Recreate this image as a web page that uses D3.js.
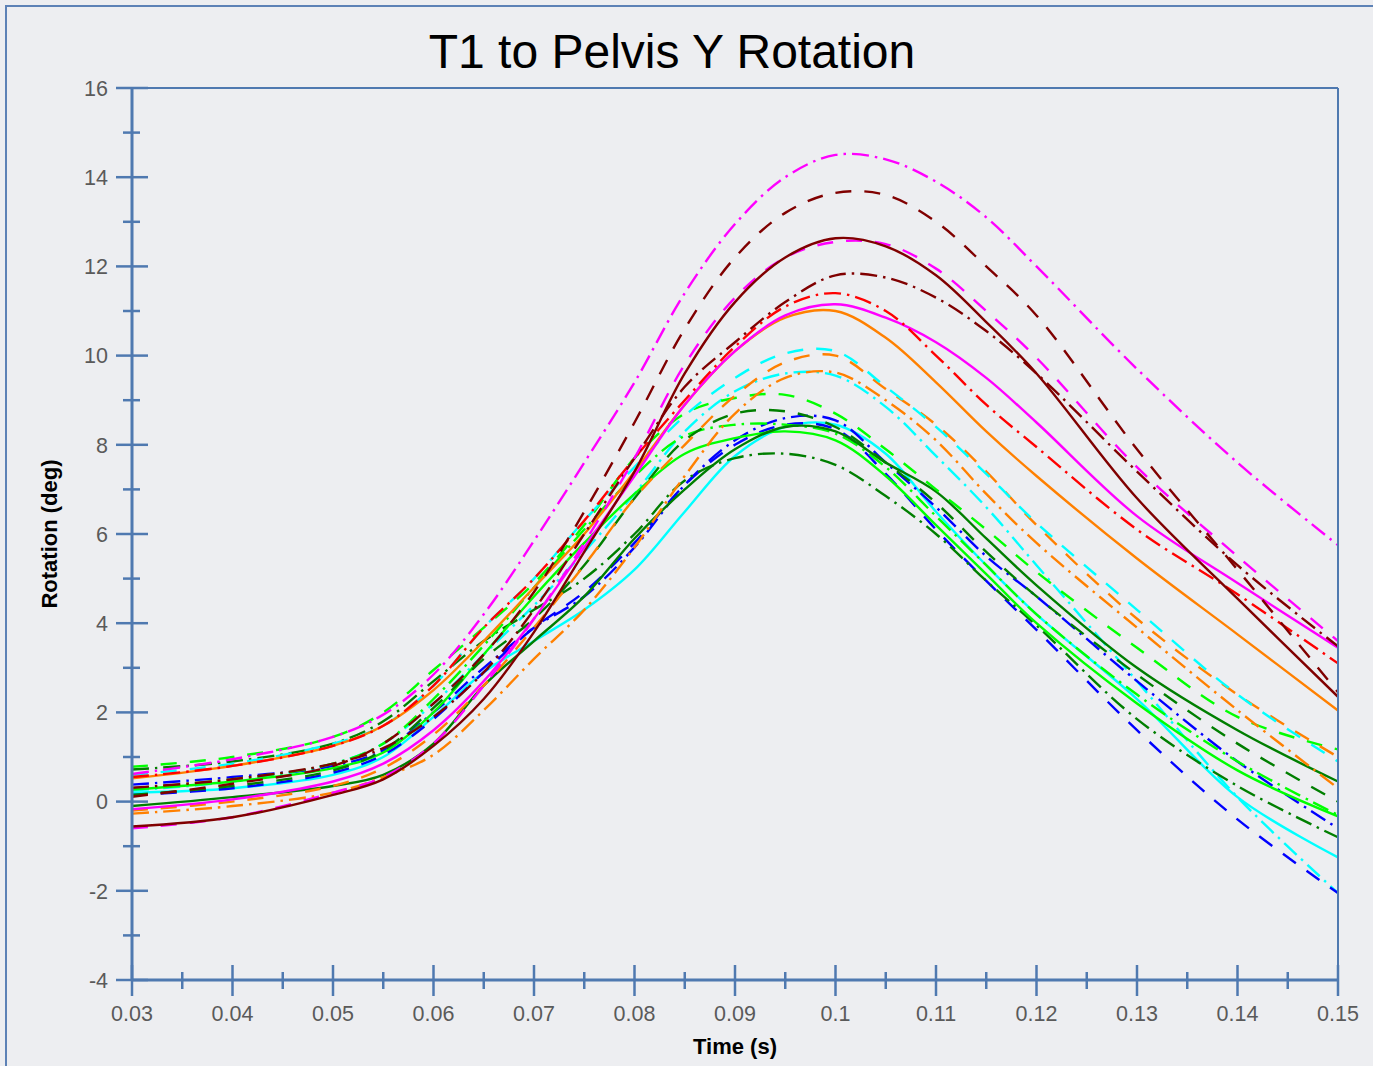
<!DOCTYPE html>
<html>
<head>
<meta charset="utf-8">
<script src="https://cdn.jsdelivr.net/npm/d3@7"></script>
<style>
  html, body { margin: 0; padding: 0; background: #edeef1; }
  svg { display: block; }
</style>
</head>
<body>
<svg id="chart" width="1373" height="1066"></svg>
<script>
// ---- data ----
const times = [0.03, 0.04, 0.05, 0.055, 0.06, 0.065, 0.07, 0.075, 0.08, 0.085, 0.09, 0.095, 0.10, 0.105, 0.11, 0.115, 0.12, 0.13, 0.14, 0.15];

const magentaDashDot = [0.62, 0.95, 1.45, 1.95, 2.85, 4.2, 5.85, 7.6, 9.4, 11.4, 12.95, 14.0, 14.5, 14.4, 13.9, 13.1, 12.0, 9.7, 7.6, 5.75];
const darkredDashed  = [0.11, 0.4, 0.8, 1.3, 2.2, 3.3, 4.7, 6.5, 8.5, 10.6, 12.2, 13.2, 13.65, 13.6, 13.0, 12.0, 10.9, 7.9, 5.2, 2.45];
const darkredDashDot = [0.31, 0.5, 0.85, 1.2, 1.9, 2.9, 4.3, 6.0, 7.7, 9.3, 10.3, 11.2, 11.8, 11.75, 11.3, 10.55, 9.6, 7.4, 5.3, 3.48];
const redDashDot     = [0.55, 0.8, 1.25, 1.7, 2.6, 3.9, 5.0, 6.3, 7.7, 9.0, 10.2, 11.1, 11.4, 11.0, 10.0, 8.9, 7.95, 6.1, 4.65, 3.1];
const magentaSolid   = [-0.17, 0.05, 0.45, 0.85, 1.6, 2.7, 4.1, 5.7, 7.3, 8.9, 10.1, 10.9, 11.15, 10.85, 10.3, 9.5, 8.5, 6.4, 4.9, 3.45];
const magentaDashed  = [-0.6, -0.35, 0.2, 0.55, 1.3, 2.6, 4.1, 5.8, 7.7, 9.8, 11.3, 12.2, 12.55, 12.5, 11.95, 11.0, 9.95, 7.5, 5.5, 3.6];
const orangeSolid    = [0.52, 0.8, 1.25, 1.7, 2.5, 3.6, 4.8, 6.0, 7.4, 8.9, 10.1, 10.85, 11.0, 10.4, 9.4, 8.3, 7.3, 5.45, 3.75, 2.04];
const cyanDashed     = [0.6, 0.85, 1.3, 1.7, 2.6, 3.9, 5.0, 6.3, 7.5, 8.65, 9.5, 10.05, 10.1, 9.3, 8.4, 7.35, 6.25, 4.3, 2.4, 0.9];
const orangeDashed   = [-0.2, 0.0, 0.35, 0.75, 1.5, 2.6, 3.9, 5.3, 6.8, 8.0, 9.1, 9.85, 10.0, 9.25, 8.45, 7.4, 6.2, 4.1, 2.4, 1.0];
const orangeDashDot  = [-0.27, -0.1, 0.2, 0.55, 1.05, 2.05, 3.2, 4.3, 5.7, 7.3, 8.7, 9.5, 9.62, 9.0, 8.1, 6.9, 5.8, 3.9, 2.05, 0.3];
const cyanDashDot    = [0.25, 0.45, 0.85, 1.3, 2.2, 3.3, 4.4, 5.6, 6.9, 8.3, 9.2, 9.6, 9.55, 8.85, 7.75, 6.6, 5.3, 2.7, 0.1, -2.05];
const cyanSolid      = [0.2, 0.3, 0.6, 1.0, 1.9, 2.9, 3.6, 4.3, 5.2, 6.5, 7.75, 8.4, 8.45, 7.8, 6.5, 5.3, 4.2, 2.3, 0.1, -1.25];
const blueDashed     = [0.15, 0.3, 0.65, 1.05, 1.85, 2.9, 3.9, 4.7, 5.8, 7.1, 8.0, 8.45, 8.35, 7.35, 6.1, 4.95, 3.85, 1.6, -0.4, -2.05];
const blueDashDot    = [0.38, 0.55, 0.8, 1.15, 2.0, 3.0, 3.9, 4.6, 5.7, 7.1, 8.1, 8.6, 8.55, 7.6, 6.6, 5.5, 4.6, 2.7, 0.9, -0.6];
const limeDashed     = [0.78, 1.0, 1.45, 2.0, 2.95, 3.9, 4.9, 6.2, 7.7, 8.7, 9.05, 9.12, 8.7, 7.9, 7.0, 6.1, 5.15, 3.45, 1.9, 1.17];
const limeSolid      = [0.27, 0.45, 0.75, 1.1, 2.0, 3.3, 4.6, 5.8, 6.9, 7.8, 8.15, 8.3, 8.1, 7.3, 6.2, 5.1, 4.0, 2.2, 0.7, -0.33];
const limeDashDot    = [0.3, 0.5, 0.85, 1.3, 2.3, 3.5, 4.8, 6.1, 7.3, 8.2, 8.45, 8.45, 8.25, 7.5, 6.4, 5.3, 4.2, 2.4, 0.9, -0.3];
const greenSolid     = [-0.1, 0.1, 0.35, 0.6, 1.3, 2.6, 3.6, 4.6, 5.9, 7.0, 7.9, 8.4, 8.3, 7.6, 6.95, 5.9, 4.85, 3.0, 1.6, 0.45];
const greenDashed    = [0.15, 0.35, 0.7, 1.15, 2.1, 3.2, 4.1, 5.3, 6.8, 8.1, 8.7, 8.75, 8.4, 7.6, 6.7, 5.6, 4.6, 2.85, 1.3, 0.0];
const greenDashDot   = [0.72, 0.9, 1.3, 1.8, 2.7, 3.6, 4.3, 5.0, 6.0, 7.2, 7.7, 7.8, 7.55, 6.85, 6.0, 4.95, 3.95, 1.85, 0.35, -0.8];
const darkredSolid   = [-0.56, -0.35, 0.15, 0.5, 1.25, 2.3, 3.8, 5.6, 7.4, 9.6, 11.2, 12.2, 12.63, 12.45, 11.8, 10.75, 9.6, 6.8, 4.55, 2.35];

const xTicks = [0.03, 0.04, 0.05, 0.06, 0.07, 0.08, 0.09, 0.1, 0.11, 0.12, 0.13, 0.14, 0.15];
const xTickLabels = ["0.03", "0.04", "0.05", "0.06", "0.07", "0.08", "0.09", "0.1", "0.11", "0.12", "0.13", "0.14", "0.15"];
const yTicks = [-4, -2, 0, 2, 4, 6, 8, 10, 12, 14, 16];

const titleText = "T1 to Pelvis Y Rotation";
const xLabel = "Time (s)";
const yLabel = "Rotation (deg)";

// ---- styling ----
const C = {
  magenta: "#ff00ff", darkred: "#800000", red: "#ff0000", orange: "#ff8000",
  cyan: "#00ffff", blue: "#0000ff", lime: "#00ff00", green: "#007f00"
};
const DASH = { solid: null, dashed: "16,13", dashdot: "17,6,2.5,6" };

const series = [
  { v: cyanSolid, c: C.cyan, d: "solid" },
  { v: cyanDashDot, c: C.cyan, d: "dashdot" },
  { v: blueDashed, c: C.blue, d: "dashed" },
  { v: blueDashDot, c: C.blue, d: "dashdot" },
  { v: greenDashDot, c: C.green, d: "dashdot" },
  { v: limeSolid, c: C.lime, d: "solid" },
  { v: limeDashDot, c: C.lime, d: "dashdot" },
  { v: greenDashed, c: C.green, d: "dashed" },
  { v: greenSolid, c: C.green, d: "solid" },
  { v: limeDashed, c: C.lime, d: "dashed" },
  { v: orangeDashDot, c: C.orange, d: "dashdot" },
  { v: orangeDashed, c: C.orange, d: "dashed" },
  { v: cyanDashed, c: C.cyan, d: "dashed" },
  { v: orangeSolid, c: C.orange, d: "solid" },
  { v: magentaSolid, c: C.magenta, d: "solid" },
  { v: redDashDot, c: C.red, d: "dashdot" },
  { v: darkredDashDot, c: C.darkred, d: "dashdot" },
  { v: magentaDashed, c: C.magenta, d: "dashed" },
  { v: darkredSolid, c: C.darkred, d: "solid" },
  { v: darkredDashed, c: C.darkred, d: "dashed" },
  { v: magentaDashDot, c: C.magenta, d: "dashdot" }
];

// ---- drawing ----
const svg = d3.select("#chart");
const axisColor = "#4f79b0";
const labelColor = "#5a5a5a";
const font = "'Liberation Sans', Arial, sans-serif";

svg.append("rect").attr("x", 0).attr("y", 0).attr("width", 1373).attr("height", 1066).attr("fill", "#edeef1");
svg.append("rect").attr("x", 6).attr("y", 6).attr("width", 1420).attr("height", 1120)
  .attr("fill", "none").attr("stroke", "#5d82b6").attr("stroke-width", 2);

const L = 132, R = 1338, T = 88, B = 980;
const x = d3.scaleLinear().domain([0.03, 0.15]).range([L, R]);
const y = d3.scaleLinear().domain([-4, 16]).range([B, T]);

const clipId = "plotclip";
svg.append("clipPath").attr("id", clipId).append("rect")
  .attr("x", L).attr("y", T).attr("width", R - L).attr("height", B - T);

const line = d3.line().x((d, i) => x(times[i])).y(d => y(d)).curve(d3.curveCatmullRom.alpha(0.5));
const g = svg.append("g").attr("clip-path", `url(#${clipId})`);
series.forEach(s => {
  g.append("path")
    .attr("d", line(s.v))
    .attr("fill", "none")
    .attr("stroke", s.c)
    .attr("stroke-width", 2.4)
    .attr("stroke-dasharray", DASH[s.d])
    .attr("stroke-linejoin", "round");
});

// frame top/right
svg.append("line").attr("x1", L).attr("x2", R).attr("y1", T).attr("y2", T)
  .attr("stroke", axisColor).attr("stroke-width", 2);
svg.append("line").attr("x1", R).attr("x2", R).attr("y1", T).attr("y2", B)
  .attr("stroke", axisColor).attr("stroke-width", 2);

// y axis
const yMinor = d3.range(-3, 16, 2);
svg.append("line").attr("x1", L).attr("x2", L).attr("y1", T - 1).attr("y2", B + 1)
  .attr("stroke", axisColor).attr("stroke-width", 3);
svg.selectAll(".ymaj").data(yTicks).enter().append("line")
  .attr("x1", L - 16).attr("x2", L + 16).attr("y1", d => y(d)).attr("y2", d => y(d))
  .attr("stroke", axisColor).attr("stroke-width", 2.5);
svg.selectAll(".ymin").data(yMinor).enter().append("line")
  .attr("x1", L - 9).attr("x2", L + 8).attr("y1", d => y(d)).attr("y2", d => y(d))
  .attr("stroke", axisColor).attr("stroke-width", 2.5);
svg.selectAll(".ylab").data(yTicks).enter().append("text")
  .attr("x", 108).attr("y", d => y(d)).attr("dy", "0.36em")
  .attr("text-anchor", "end").attr("font-family", font).attr("font-size", 21.5)
  .attr("fill", labelColor).text(d => d);

// x axis
const xMinor = d3.range(0.035, 0.15, 0.01);
svg.append("line").attr("x1", L - 1).attr("x2", R + 1).attr("y1", B).attr("y2", B)
  .attr("stroke", axisColor).attr("stroke-width", 3);
svg.selectAll(".xmaj").data(xTicks).enter().append("line")
  .attr("x1", d => x(d)).attr("x2", d => x(d)).attr("y1", B - 15).attr("y2", B + 16)
  .attr("stroke", axisColor).attr("stroke-width", 2.5);
svg.selectAll(".xmin").data(xMinor).enter().append("line")
  .attr("x1", d => x(d)).attr("x2", d => x(d)).attr("y1", B - 8).attr("y2", B + 9)
  .attr("stroke", axisColor).attr("stroke-width", 2.5);
svg.selectAll(".xlab").data(xTicks).enter().append("text")
  .attr("x", d => x(d)).attr("y", 1021)
  .attr("text-anchor", "middle").attr("font-family", font).attr("font-size", 21.5)
  .attr("fill", labelColor).text((d, i) => xTickLabels[i]);

// title & labels
svg.append("text").attr("x", 672).attr("y", 68).attr("text-anchor", "middle")
  .attr("font-family", font).attr("font-size", 48).attr("fill", "#000").text(titleText);
svg.append("text").attr("x", 735).attr("y", 1054).attr("text-anchor", "middle")
  .attr("font-family", font).attr("font-size", 22).attr("font-weight", "bold").attr("fill", "#000").text(xLabel);
svg.append("text").attr("transform", "translate(57,534) rotate(-90)").attr("text-anchor", "middle")
  .attr("font-family", font).attr("font-size", 22).attr("font-weight", "bold").attr("fill", "#000").text(yLabel);
</script>
</body>
</html>
